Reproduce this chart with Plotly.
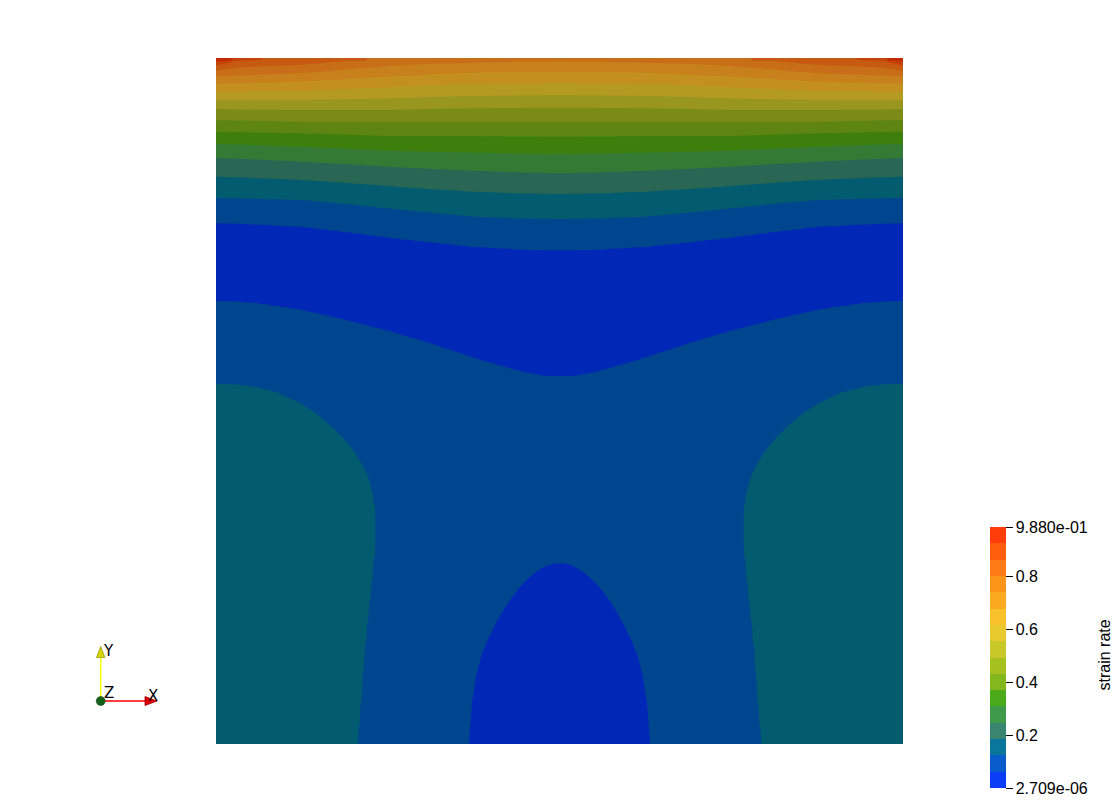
import numpy as np
import plotly.graph_objects as go

# ---------------- data ----------------
# colour-bar range of the "strain rate" field, 16 discrete bands
z_min = 2.709e-06
z_max = 0.988
n_bands = 16
bar_ticks = [2.709e-06, 0.2, 0.4, 0.6, 0.8, 0.988]
bar_tick_text = ["2.709e-06", "0.2", "0.4", "0.6", "0.8", "9.880e-01"]
bar_title = "strain rate"

# Lid region: height y (0 = bottom wall, 1 = moving lid) where each contour
# level crosses a vertical line at distance col_x from the side wall
# (the field is mirror-symmetric about the cavity centre x = 0.5).
col_x = [0.0, 0.03, 0.07, 0.125, 0.19, 0.25, 0.31, 0.375, 0.44, 0.5]
lid_value = [0.988, 0.91, 0.862, 0.852, 0.82, 0.787, 0.777, 0.770, 0.763, 0.760]
lvl15_y = [0.9952, None, None, None, None, None, None, None, None, None]
lvl14_y = [0.9891, 0.9964, None, None, None, None, None, None, None, None]
lvl13_y = [0.9818, 0.9861, 0.9883, 0.9898, 0.9956, None, None, None, None, None]
lvl12_y = [0.9730, 0.9745, 0.9759, 0.9777, 0.9832, 0.9883, 0.9913, 0.9931, 0.9945, 0.9952]
lvl11_y = [0.9628, 0.9636, 0.9643, 0.9655, 0.9694, 0.9727, 0.9759, 0.9786, 0.9793, 0.9796]
lvl10_y = [0.9509, 0.9512, 0.9516, 0.9523, 0.9548, 0.9573, 0.9599, 0.9621, 0.9628, 0.9631]
lvl9_y = [0.9388, 0.9388, 0.9388, 0.9388, 0.9398, 0.9413, 0.9431, 0.9446, 0.9456, 0.9461]
lvl8_y = [0.9257, 0.9252, 0.9246, 0.9242, 0.9242, 0.9242, 0.9257, 0.9267, 0.9273, 0.9276]
lvl7_y = [0.9096, 0.9089, 0.9082, 0.9071, 0.9071, 0.9071, 0.9071, 0.9071, 0.9071, 0.9071]
lvl6_y = [0.8926, 0.8921, 0.8913, 0.8902, 0.8882, 0.8863, 0.8863, 0.8863, 0.8856, 0.8853]
lvl5_y = [0.8746, 0.8739, 0.8726, 0.8707, 0.8678, 0.8649, 0.8634, 0.8620, 0.8608, 0.8601]
lvl4_y = [0.8542, 0.8534, 0.8516, 0.8488, 0.8452, 0.8416, 0.8386, 0.8357, 0.8334, 0.8319]
lvl3_y = [0.8270, 0.8262, 0.8248, 0.8222, 0.8178, 0.8134, 0.8090, 0.8051, 0.8028, 0.8017]
lvl2_y = [0.7959, 0.7955, 0.7945, 0.7930, 0.7872, 0.7809, 0.7748, 0.7687, 0.7663, 0.7653]
lvl1_y = [0.7595, 0.7587, 0.7570, 0.7541, 0.7464, 0.7386, 0.7318, 0.7249, 0.7213, 0.7201]

# low-strain trough under the lid flow: lower edge of the lowest band
trough_x = [0.0, 0.057, 0.122, 0.187, 0.253, 0.318, 0.383, 0.449, 0.475, 0.5]
trough_y = [0.6458, 0.6424, 0.6327, 0.6181, 0.6010, 0.5816, 0.5598, 0.5413, 0.5366, 0.5350]
trough_min = 0.03

# side-wall lobes (edge of the third band), listed from top to bottom
lobe_y = [0.5258, 0.5243, 0.5208, 0.5127, 0.4975, 0.4810, 0.4636, 0.4446, 0.4286,
          0.4082, 0.3873, 0.3605, 0.3313, 0.2926, 0.2585, 0.2245, 0.1759, 0.1273,
          0.0641, 0.0]
lobe_x = [0.0, 0.0304, 0.0566, 0.0892, 0.1219, 0.1480, 0.1675, 0.1872, 0.2003,
          0.2134, 0.2231, 0.2297, 0.2329, 0.2329, 0.2297, 0.2264, 0.2211, 0.2166,
          0.2121, 0.2068]
lobe_peak = 0.155

# central dome of the lowest band on the bottom wall, top to bottom
dome_y = [0.2643, 0.2624, 0.2585, 0.2512, 0.2415, 0.2293, 0.2147, 0.1953, 0.1759,
          0.1516, 0.1273, 0.0981, 0.0593, 0.0]
dome_x = [0.5, 0.4882, 0.4785, 0.4661, 0.4543, 0.4425, 0.4314, 0.4183, 0.4073,
          0.3955, 0.3857, 0.3785, 0.3726, 0.3681]
dome_min = 0.03

core_value = 0.095

# band colours: as shaded in the view, and as shown in the colour bar
view_colors = ["#0027B5", "#00468E", "#025B6E", "#2A6654", "#347A34", "#3E7E0C",
               "#5E8512", "#7B8C16", "#98961F", "#B59A22", "#C3901F", "#C8801C",
               "#C86E18", "#C55A10", "#C5420A", "#C42A02"]
bar_colors = ["#0A3DF5", "#0A5BCC", "#09769B", "#3A8570", "#3E9A48", "#4AAA1A",
              "#84B71E", "#A6C01F", "#C9C82B", "#E8CA2E", "#F9C22C", "#FBAA20",
              "#FA951A", "#FE7A15", "#FF5C0C", "#FF3D0A"]

# ---------------- build the field table ----------------
cs = (z_max - z_min) / n_bands
levels = [z_min + k * cs for k in range(n_bands + 1)]
level_y = [None, lvl1_y, lvl2_y, lvl3_y, lvl4_y, lvl5_y, lvl6_y, lvl7_y, lvl8_y,
           lvl9_y, lvl10_y, lvl11_y, lvl12_y, lvl13_y, lvl14_y, lvl15_y]

xg = np.linspace(0.0, 1.0, 321)
yg = np.linspace(0.0, 1.0, 461)
Z = np.zeros((yg.size, xg.size))

for j, xv in enumerate(xg):
    h = 0.5 - abs(xv - 0.5)
    top = float(np.interp(h, col_x, lid_value))
    c = float(np.interp(h, trough_x, trough_y))
    crossings = []
    for k in range(1, n_bands):
        if levels[k] >= top:
            break
        pts = [(cx, cy) for cx, cy in zip(col_x, level_y[k]) if cy is not None]
        xs = [p[0] for p in pts]
        ys = [p[1] for p in pts]
        crossings.append((float(np.interp(h, xs, ys)), levels[k]))
    u1 = crossings[0][0]
    ky = [c - 0.08, c, 0.5 * (c + u1)]
    kv = [0.35, levels[1], trough_min]
    for cy, lv in crossings:
        ky.append(cy)
        kv.append(lv)
    ky.append(1.0)
    kv.append(top)
    ky = np.array(ky)
    kv = np.array(kv)
    o = np.argsort(ky)
    Z[:, j] = np.interp(yg, ky[o], kv[o])

H = 0.5 - np.abs(xg - 0.5)
lobe_yi, lobe_xi = lobe_y[::-1], lobe_x[::-1]
dome_yi, dome_xi = dome_y[::-1], dome_x[::-1]
L1, L2 = levels[1], levels[2]
for i, yv in enumerate(yg):
    if yv > 0.68:
        continue
    if yv <= lobe_y[0]:
        b = float(np.interp(yv, lobe_yi, lobe_xi))
        inside = L2 + (lobe_peak - L2) * (b - H) / max(b, 1e-6)
        outside = L2 - 0.6 * (H - b)
        lob = np.where(H < b, inside, outside)
    else:
        lob = np.full_like(H, -1.0)
    if yv <= dome_y[0]:
        d = float(np.interp(yv, dome_yi, dome_xi))
        dom = np.maximum(L1 + 0.6 * (d - H), dome_min)
    else:
        dom = np.full_like(H, np.inf)
    B = np.maximum(lob, np.minimum(dom, core_value))
    Z[i] = np.minimum(Z[i], B)


def stepped(colors):
    sc = []
    n = len(colors)
    for k, col in enumerate(colors):
        sc.append([k / n, col])
        sc.append([(k + 1) / n, col])
    return sc


fig = go.Figure()
fig.add_trace(go.Contour(
    x=xg, y=yg, z=Z,
    autocontour=False,
    contours=dict(start=levels[0], end=levels[-1], size=cs,
                  coloring="fill", showlines=False),
    line=dict(width=0, smoothing=1),
    colorscale=stepped(view_colors),
    showscale=False,
    hoverinfo="skip",
))

FONT = "Liberation Sans, Arial, sans-serif"
W, Hh = 1119, 802

fig.add_trace(go.Scatter(
    x=[0.5], y=[0.5], mode="markers", hoverinfo="skip", showlegend=False,
    marker=dict(size=1, opacity=0, color=[z_min], cmin=z_min, cmax=z_max,
                colorscale=stepped(bar_colors), showscale=True,
                colorbar=dict(
                    thickness=16, thicknessmode="pixels",
                    len=261 / Hh, lenmode="fraction",
                    x=990 / W, xanchor="left",
                    y=1 - 788 / Hh, yanchor="bottom",
                    xpad=0, ypad=0, outlinewidth=0, borderwidth=0,
                    ticks="outside", ticklen=7, tickwidth=1, tickcolor="black",
                    tickvals=bar_ticks, ticktext=bar_tick_text,
                    tickfont=dict(family=FONT, size=16, color="black"),
                )),
))


def px(xp, yp):
    return xp / W, 1 - yp / Hh


shapes = []
ox, oy = 100.7, 701
# Y axis of the orientation triad
a, b = px(ox, oy)
c_, d_ = px(ox, 656)
shapes.append(dict(type="line", xref="paper", yref="paper", x0=a, y0=b, x1=c_, y1=d_,
                   line=dict(color="#FFFF00", width=1.5)))
t1 = px(ox, 646.5); t2 = px(ox - 4.2, 657.5); t3 = px(ox + 4.2, 657.5)
shapes.append(dict(type="path", xref="paper", yref="paper",
                   path=f"M {t1[0]} {t1[1]} L {t2[0]} {t2[1]} L {t3[0]} {t3[1]} Z",
                   fillcolor="#D6D600", line=dict(color="#9A9A00", width=0.8)))
# X axis
c_, d_ = px(146, oy)
shapes.append(dict(type="line", xref="paper", yref="paper", x0=a, y0=b, x1=c_, y1=d_,
                   line=dict(color="#FF0000", width=1.5)))
t1 = px(157, oy); t2 = px(145, oy - 4.5); t3 = px(145, oy + 4.5)
shapes.append(dict(type="path", xref="paper", yref="paper",
                   path=f"M {t1[0]} {t1[1]} L {t2[0]} {t2[1]} L {t3[0]} {t3[1]} Z",
                   fillcolor="#E00000", line=dict(color="#A00000", width=0.8)))
# Z axis (towards the viewer)
e0 = px(ox - 4.5, oy - 4.5); e1 = px(ox + 4.5, oy + 4.5)
shapes.append(dict(type="circle", xref="paper", yref="paper",
                   x0=e0[0], y0=e1[1], x1=e1[0], y1=e0[1],
                   fillcolor="#15601A", line=dict(color="#0B400E", width=0.5)))

annotations = []
for label, lx, ly in [("Y", 108.5, 650.5), ("Z", 108.7, 693), ("X", 152.5, 695.7)]:
    p = px(lx, ly)
    annotations.append(dict(text=label, x=p[0], y=p[1], xref="paper", yref="paper",
                            showarrow=False, xanchor="center", yanchor="middle",
                            font=dict(family="DejaVu Sans, sans-serif", size=15, color="black")))
p = px(1104, 655.5)
annotations.append(dict(text=bar_title, x=p[0], y=p[1], xref="paper", yref="paper",
                        showarrow=False, xanchor="center", yanchor="middle", textangle=-90,
                        font=dict(family=FONT, size=16, color="black")))

fig.update_layout(
    width=W, height=Hh,
    margin=dict(l=0, r=0, t=0, b=0),
    paper_bgcolor="white", plot_bgcolor="white",
    showlegend=False,
    xaxis=dict(range=[0, 1], domain=[216 / W, 903 / W], visible=False, fixedrange=True),
    yaxis=dict(range=[0, 1], domain=[1 - 744 / Hh, 1 - 58 / Hh], visible=False, fixedrange=True),
    shapes=shapes,
    annotations=annotations,
)

fig.write_html("out.html")
